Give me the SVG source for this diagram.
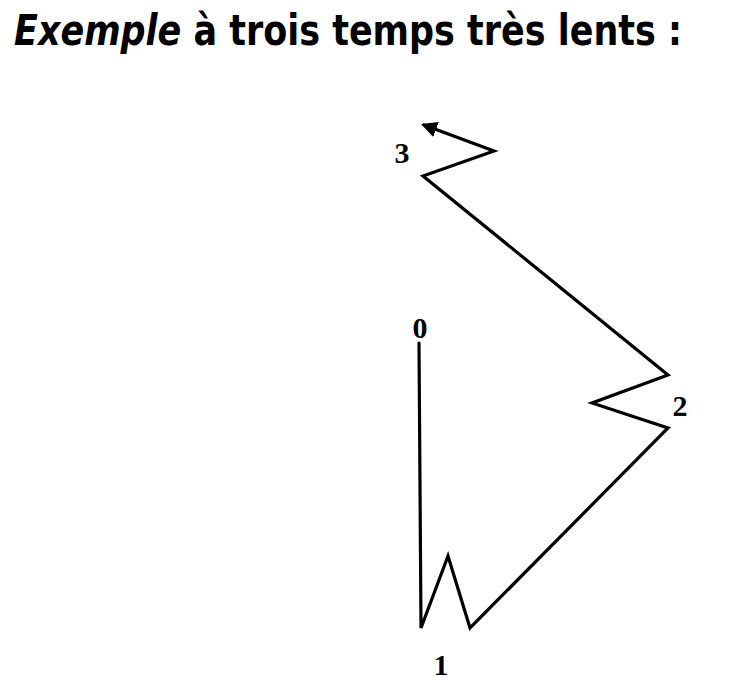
<svg xmlns="http://www.w3.org/2000/svg" width="733" height="685" viewBox="0 0 733 685">
<style>
.t{font-family:"Liberation Sans Narrow","DejaVu Sans Condensed","Liberation Sans",sans-serif;font-weight:bold;fill:#000}
.lbl{font-family:"Liberation Serif","DejaVu Serif",serif;font-weight:bold;font-size:30px;fill:#000;text-anchor:middle}
.ln{fill:none;stroke:#000;stroke-width:3.2;stroke-linejoin:miter;stroke-linecap:round}
</style>
<defs>
<marker id="ah" viewBox="0 0 10 10" refX="8" refY="5" markerWidth="5" markerHeight="5" orient="auto" markerUnits="strokeWidth">
<path d="M0,0 L10,5 L0,10 z" fill="#000"/>
</marker>
</defs>
<rect width="733" height="685" fill="#fff"/>
<g id="title">
<text class="t" x="14" y="45" font-size="42" textLength="668" lengthAdjust="spacingAndGlyphs"><tspan font-style="italic">Exemple</tspan> à trois temps très lents :</text>
</g>
<g id="connectors">
<path class="ln" marker-end="url(#ah)" d="M419,343 L421,628 L448,556 L470,628 L668,428 L592,403 L668,375 L423,176 L494,151 L424,125"/>
</g>
<g id="n0"><text class="lbl" x="420" y="338" font-size="26">0</text></g>
<g id="n1"><text class="lbl" x="441" y="675">1</text></g>
<g id="n2"><text class="lbl" x="680" y="416">2</text></g>
<g id="n3"><text class="lbl" x="402" y="163">3</text></g>
</svg>
